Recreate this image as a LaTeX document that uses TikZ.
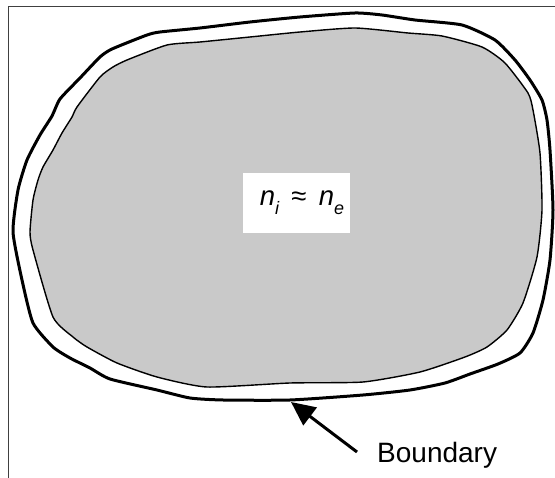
\documentclass[tikz,border=0pt]{standalone}
\usepackage{fontspec}
\setmainfont{Liberation Sans}
\usetikzlibrary{arrows.meta}
\tikzset{
  frameline/.style={draw=black!75, line width=1pt},
  outerline/.style={draw=black, line width=3pt, line join=round},
  innerline/.style={draw=black, fill=black!21, line width=1.4pt, line join=round},
  lab/.style={fill=white, inner sep=0pt, minimum width=107pt, minimum height=60pt, font=\fontsize{27.5}{30}\selectfont},
  txt/.style={font=\fontsize{28}{32}\selectfont, inner sep=0pt},
  pointer/.style={line width=3pt, -{Triangle[length=24pt, width=22pt]}}
}
\newcommand{\subsc}[1]{\raisebox{-0.32em}{\fontsize{18}{20}\selectfont\itshape #1}}
\begin{document}
\begin{tikzpicture}[x=1pt,y=-1pt]
\useasboundingbox (0,0) rectangle (555,478);
% frame
\draw[frameline] (8,478) -- (8,7) -- (555,7);
% outer boundary
\draw[outerline] plot[smooth cycle, tension=0.35] coordinates {
 (13,232) (18,190) (27,160) (40,135) (52,116) (60,99) (80,78) (100,57) (112,49)
 (147,35) (160,32) (200,28) (250,22) (300,17) (355,13) (382,15) (415,20) (462,25)
 (495,40) (515,60) (530,80) (542,100) (547,120) (550,150) (553,210) (550,260)
 (543,300) (533,333) (520,353) (498,364) (470,374) (445,383) (410,390) (363,395)
 (290,400) (223,400) (190,398) (157,390) (110,379) (90,368) (70,358) (53,347)
 (33,323) (22,280)};
% inner plasma
\path[innerline] plot[smooth cycle, tension=0.35] coordinates {
 (30,232) (33,200) (38,180) (43,167) (53,150) (62,133) (72,117) (77,107) (100,77)
 (113,67) (127,60) (167,45) (200,42) (250,37) (300,32) (355,28) (408,33) (442,36)
 (482,47) (505,63) (528,93) (533,110) (540,153) (542,210) (537,257) (523,303)
 (507,330) (487,347) (465,357) (420,372) (363,382) (290,383) (207,387) (157,377)
 (117,363) (87,347) (73,337) (53,317) (33,250)};
% label
\node[lab] (eq) at (296,203) {\hspace{12pt}\itshape n\subsc{i}\hspace{0.45em}\upshape≈\hspace{0.45em}\itshape n\subsc{e}};
% boundary label and arrow
\node[txt, anchor=base west] (bd) at (377,463) {Boundary};
\coordinate (tail) at (357,452);
\coordinate (tip) at (291,402);
\draw[pointer] (tail) -- (tip);
\end{tikzpicture}
\end{document}
